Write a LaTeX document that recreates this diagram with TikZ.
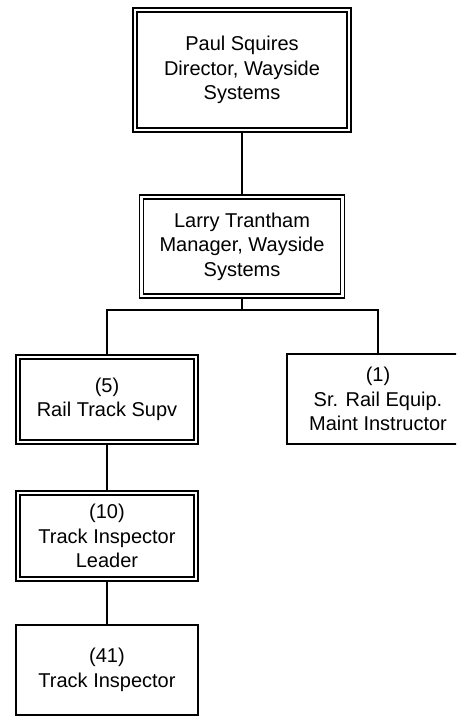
\documentclass[tikz,border=0pt]{standalone}
\usepackage{fontspec}
\setmainfont{Liberation Sans}
\usetikzlibrary{backgrounds}
\begin{document}
\begin{tikzpicture}[x=1pt,y=-1pt,
  box/.style={draw, fill=white, line width=1.4pt, inner sep=0pt, align=center,
    font=\fontsize{20}{24.5}\selectfont},
  dblbox/.style={box, double, double distance=2.6pt},
  sglbox/.style={box, line width=1.5pt},
  conn/.style={line width=1.5pt}]
\useasboundingbox (0,0) rectangle (456,717);
\clip (0,0) rectangle (456,717);
\node[dblbox, minimum width=214pt, minimum height=120pt] (dir) at (242,70)
  {Paul Squires\\Director, Wayside\\Systems};
\node[dblbox, minimum width=201pt, minimum height=99pt] (mgr) at (242,246.5)
  {Larry Trantham\\Manager, Wayside\\Systems};
\node[dblbox, minimum width=178pt, minimum height=85pt] (sup) at (107,399.5)
  {(5)\\Rail Track Supv};
\node[sglbox, minimum width=182pt, minimum height=90pt] (ins) at (378,399)
  {(1)\\Sr. Rail Equip.\\Maint Instructor};
\node[dblbox, minimum width=178pt, minimum height=86pt] (lead) at (107,536)
  {(10)\\Track Inspector\\Leader};
\node[sglbox, minimum width=182pt, minimum height=90pt] (tins) at (107,670)
  {(41)\\Track Inspector};
\coordinate (bus) at (242,310);
\begin{pgfonlayer}{background}
\draw[conn] (dir.south) -- (mgr.north);
\draw[conn] (mgr.south) -- (bus);
\draw[conn] (bus) -| (sup.north);
\draw[conn] (bus) -| (ins.north);
\draw[conn] (sup.south) -- (lead.north);
\draw[conn] (lead.south) -- (tins.north);
\end{pgfonlayer}
\end{tikzpicture}
\end{document}
